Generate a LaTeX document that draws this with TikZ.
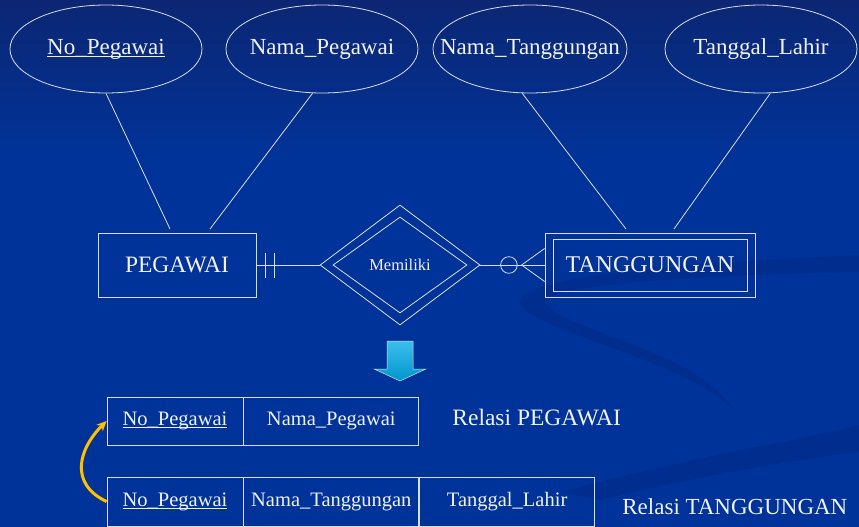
\documentclass[tikz,border=0pt]{standalone}
\usepackage{fontspec}
\setmainfont{Liberation Serif}
\usetikzlibrary{shapes.geometric,arrows.meta}

\definecolor{bgtop}{RGB}{12,38,115}
\definecolor{bgmain}{RGB}{0,51,153}
\definecolor{swirlcol}{RGB}{0,34,118}
\definecolor{linecol}{RGB}{215,222,238}
\definecolor{txtcol}{RGB}{240,242,248}
\definecolor{arrowtop}{RGB}{60,190,235}
\definecolor{arrowbot}{RGB}{0,150,205}
\definecolor{keyyellow}{RGB}{255,192,0}

% key attribute: underlined text
\newcommand{\pk}[1]{\setbox0=\hbox{#1}\rlap{\rule[-2.5pt]{\wd0}{0.7pt}}\box0}
% text inside an ellipse, so the ellipse keeps its own size
\newcommand{\inell}[1]{\makebox[0pt]{\raisebox{-2pt}{#1}}}

\begin{document}
\begin{tikzpicture}[x=1pt, y=-1pt, line width=0.8pt,
    attr/.style={ellipse, draw=linecol, text=txtcol, minimum width=192, minimum height=88, inner sep=0, font=\fontsize{23}{27}\selectfont},
    entity/.style={rectangle, draw=linecol, text=txtcol, inner sep=0, font=\fontsize{23.5}{28}\selectfont},
    cell/.style={rectangle, draw=linecol, text=txtcol, inner sep=0, minimum height=48, font=\fontsize{20.5}{24}\selectfont},
    label/.style={text=txtcol, inner sep=0, anchor=west, font=\fontsize{23.5}{28}\selectfont},
    link/.style={draw=linecol}]

    % Background
    \fill[bgmain] (0,0) rectangle (859,527);
    \shade[top color=bgtop, bottom color=bgmain] (0,0) rectangle (859,160);
    \fill[swirlcol, opacity=.3] (859,255) .. controls (700,262) and (520,275) .. (520,302) .. controls (525,330) and (690,360) .. (735,412) .. controls (700,350) and (560,330) .. (545,302) .. controls (545,285) and (700,275) .. (859,272) -- cycle;
    \fill[swirlcol, opacity=.3] (560,492) .. controls (700,455) and (800,440) .. (859,425) -- (859,452) .. controls (780,462) and (680,480) .. (600,500) -- cycle;
    \useasboundingbox (0,0) rectangle (859,527);

    % Draw nodes
    \node[attr] (nopeg) at (106,49) {\inell{\pk{No\_Pegawai}}};
    \node[attr] (namapeg) at (322,49) {\inell{Nama\_Pegawai}};
    \node[attr, minimum width=194] (namatang) at (530,49) {\inell{Nama\_Tanggungan}};
    \node[attr] (tgllahir) at (761,49) {\inell{Tanggal\_Lahir}};

    \node[entity, minimum width=158, minimum height=64] (peg) at (177,265) {PEGAWAI};
    \node[diamond, draw=linecol, minimum width=160, minimum height=120, inner sep=0] (relout) at (400,265) {};
    \node[diamond, draw=linecol, minimum width=134, minimum height=96, inner sep=0, text=txtcol, font=\fontsize{16.5}{20}\selectfont] (rel) at (400,265) {Memiliki};
    \node[entity, minimum width=210, minimum height=64] (tangout) at (650,265) {};
    \node[entity, minimum width=194, minimum height=52, font=\fontsize{24}{28}\selectfont] (tang) at (650,265) {TANGGUNGAN};

    \coordinate (pegA) at (170,229);
    \coordinate (pegB) at (210,229);
    \coordinate (tangA) at (626,229);
    \coordinate (tangB) at (674,229);
    \coordinate (crow) at ([xshift=-23pt]tangout.west);

    % Down arrow
    \shade[top color=arrowtop, bottom color=arrowbot, draw=linecol, line width=0.5pt]
        (387,341) -- (413,341) -- (413,369) -- (426,369) -- (400,381) -- (374,369) -- (387,369) -- cycle;

    % Tables
    \node[cell, minimum width=136] (t1a) at (175,421) {\pk{No\_Pegawai}};
    \node[cell, minimum width=175, anchor=west] (t1b) at (t1a.east) {Nama\_Pegawai};
    \node[label] (relpeg) at (452,418) {Relasi PEGAWAI};

    \node[cell, minimum width=136, minimum height=49] (t2a) at (175,501.5) {\pk{No\_Pegawai}};
    \node[cell, minimum width=175, minimum height=49, anchor=west] (t2b) at (t2a.east) {Nama\_Tanggungan};
    \node[cell, minimum width=175, minimum height=49, anchor=west] (t2c) at (t2b.east) {Tanggal\_Lahir};
    \node[label, font=\fontsize{23}{28}\selectfont] (reltang) at (622,507) {Relasi TANGGUNGAN};

    % Draw edges
    \draw[link] (nopeg.south) -- (pegA);
    \draw[link] (namapeg.258) -- (pegB);
    \draw[link] (namatang.260) -- (tangA);
    \draw[link] (tgllahir.282) -- (tangB);

    \draw[link] (peg.east) -- (relout.west);
    \draw[link] ([xshift=9pt,yshift=-12.5pt]peg.east) -- ([xshift=9pt,yshift=12.5pt]peg.east);
    \draw[link] ([xshift=18pt,yshift=-12.5pt]peg.east) -- ([xshift=18pt,yshift=12.5pt]peg.east);

    \draw[link] (relout.east) -- (tangout.west);
    \draw[link] ([xshift=28.5pt]relout.east) circle[radius=8.3];
    \draw[link] ([yshift=16.5pt]tangout.west) -- (crow) -- ([yshift=-16.5pt]tangout.west);

    \draw[keyyellow, line width=3pt, -{Stealth[length=10pt,width=9pt]}] (t2a.west) to[out=155,in=225,looseness=1.3] (t1a.west);
\end{tikzpicture}
\end{document}
